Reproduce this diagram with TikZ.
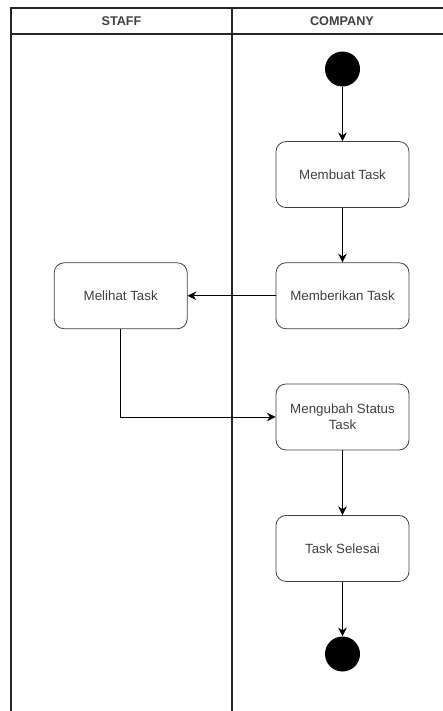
\documentclass[tikz,border=0pt]{standalone}
\usepackage{fontspec}
\setmainfont{Liberation Sans}
\usetikzlibrary{shapes,arrows,arrows.meta,positioning,calc}
\usepackage{xcolor}

\begin{document}
\begin{tikzpicture}[
    x=0.75pt, y=-0.75pt,
    node distance=40.8pt,
    act/.style={rectangle, rounded corners=7.5pt, draw=black!75, semithick, minimum width=99.75pt, minimum height=49.5pt, align=center, font=\fontsize{10}{12}\selectfont, text=black!75},
    dot/.style={circle, fill=black, minimum size=26.25pt, inner sep=0pt},
    lane/.style={draw=black!85, line width=0.8pt},
    head/.style={font=\bfseries\fontsize{9.5}{11}\selectfont, text=black!75},
    arrow/.style={-{Stealth[length=6.5pt, width=6.5pt]}, semithick}
]
    \useasboundingbox (0,0) rectangle (443,711);

    % Swimlane frame
    \draw[lane] (11,711) -- (11,8) -- (443,8);
    \draw[lane] (11,34) -- (443,34);
    \draw[lane] (232,8) -- (232,711);
    \node[head] (staff) at (121.5,21) {STAFF};
    \node[head] (company) at (342,21) {COMPANY};

    % Company lane
    \node[dot] (start) at (342.5,69) {};
    \node[act, below=of start] (buat) {Membuat Task};
    \node[act, below=of buat] (beri) {Memberikan Task};
    \node[act, below=of beri] (ubah) {Mengubah Status\\Task};
    \node[act, below=48.5pt of ubah] (selesai) {Task Selesai};
    \node[dot, below=of selesai] (finish) {};

    % Staff lane
    \node[act, left=66pt of beri] (lihat) {Melihat Task};

    % Arrows
    \draw[arrow] (start) -- (buat);
    \draw[arrow] (buat) -- (beri);
    \draw[arrow] (beri) -- (lihat);
    \draw[arrow] (lihat.south) |- (ubah.west);
    \draw[arrow] (ubah) -- (selesai);
    \draw[arrow] (selesai) -- (finish);
\end{tikzpicture}
\end{document}
